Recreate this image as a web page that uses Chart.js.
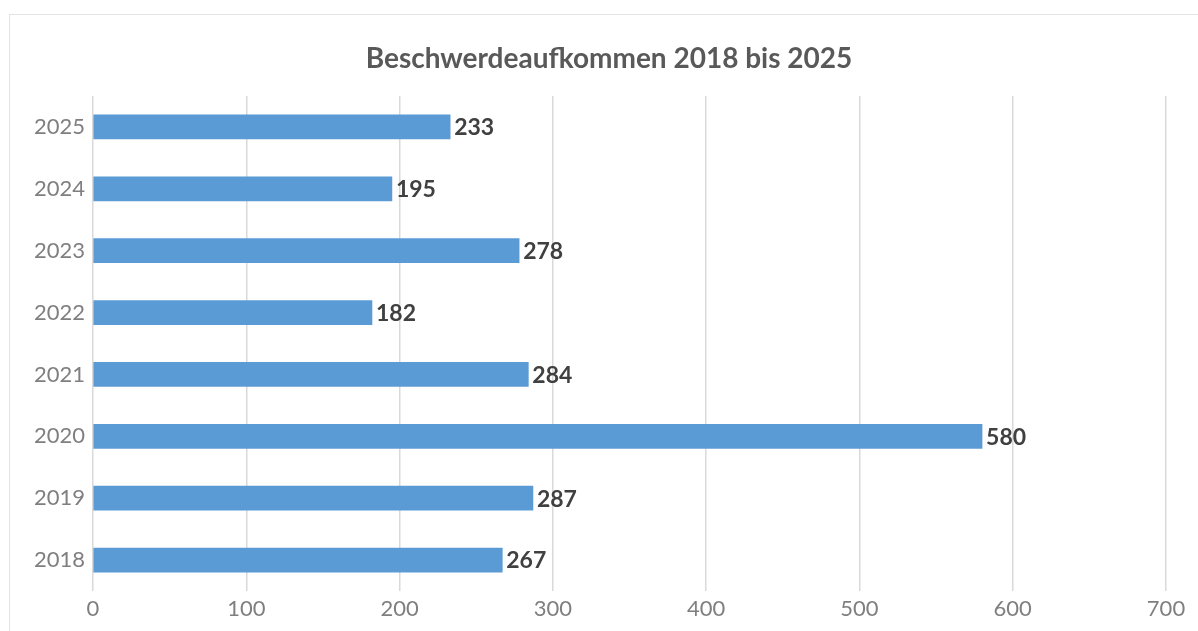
<!DOCTYPE html>
<html>
<head>
<meta charset="utf-8">
<script src="https://cdn.jsdelivr.net/npm/chart.js@4/dist/chart.umd.min.js"></script>
<style>
  html, body { margin: 0; padding: 0; background: #fff; overflow: hidden; }
  #frame { position: absolute; left: 9px; top: 14px; width: 1400px; height: 800px; border: 1px solid #e3e3e3; }
  #wrap { position: absolute; left: 0; top: 0; width: 1198px; height: 631px; }
</style>
</head>
<body>
<div id="frame"></div>
<div id="wrap"><canvas id="chart" width="1198" height="631"></canvas></div>
<script>
// Beschwerden pro Jahr
const years = ["2018", "2019", "2020", "2021", "2022", "2023", "2024", "2025"];
const complaints = [267, 287, 580, 284, 182, 278, 195, 233];
const xTicks = [0, 100, 200, 300, 400, 500, 600, 700];
const titleText = "Beschwerdeaufkommen 2018 bis 2025";

// draws the value next to the end of each bar
const valueLabels = {
  id: "valueLabels",
  afterDatasetsDraw(chart) {
    const ctx = chart.ctx;
    const meta = chart.getDatasetMeta(0);
    ctx.save();
    ctx.font = "bold 23px Lato";
    ctx.fillStyle = "#404040";
    ctx.textAlign = "left";
    ctx.textBaseline = "middle";
    meta.data.forEach((bar, i) => {
      ctx.fillText(String(complaints[i]), bar.x + 4, bar.y + 1);
    });
    ctx.restore();
  },
};

// title is centred on the whole frame, not on the plot area
const frameTitle = {
  id: "frameTitle",
  afterDraw(chart) {
    const ctx = chart.ctx;
    ctx.save();
    ctx.font = "bold 28px Lato";
    ctx.fillStyle = "#595959";
    ctx.textAlign = "center";
    ctx.textBaseline = "middle";
    ctx.fillText(titleText, 609, 59);
    ctx.restore();
  },
};

const ctx = document.getElementById("chart").getContext("2d");

new Chart(ctx, {
  type: "bar",
  data: {
    labels: years,
    datasets: [
      {
        data: complaints,
        backgroundColor: "#5b9bd5",
        barThickness: 24,
      },
    ],
  },
  options: {
    indexAxis: "y",
    responsive: false,
    animation: false,
    layout: { padding: { left: 0, right: 32, top: 96, bottom: 0 } },
    scales: {
      x: {
        min: 0,
        max: 700,
        afterBuildTicks: (s) => {
          s.ticks = xTicks.map((v) => ({ value: v }));
        },
        afterFit: (s) => {
          s.height = 40;
        },
        grid: { color: "#d9d9d9", lineWidth: 1.5, drawTicks: false },
        border: { display: false },
        ticks: {
          padding: 5,
          color: "#7f7f7f",
          font: { family: "Lato", size: 22 },
        },
      },
      y: {
        reverse: true,
        afterFit: (s) => {
          s.width = 93;
        },
        grid: { display: false, drawTicks: false },
        border: { display: false },
        ticks: {
          padding: 8,
          color: "#7f7f7f",
          font: { family: "Lato", size: 22 },
        },
      },
    },
    plugins: {
      legend: { display: false },
      tooltip: { enabled: false },
      title: { display: false },
    },
  },
  plugins: [valueLabels, frameTitle],
});
</script>
</body>
</html>
